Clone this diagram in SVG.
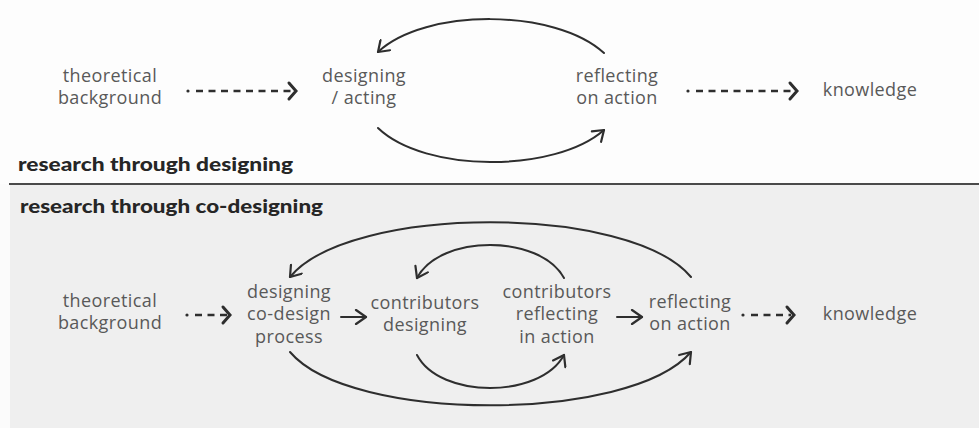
<svg xmlns="http://www.w3.org/2000/svg" width="979" height="428" viewBox="0 0 979 428">
  <style>
    .lbl { font-family: "Open Sans", "Liberation Sans", sans-serif; font-size: 18px; letter-spacing: 0.4px; fill: #595959; text-anchor: middle; }
    .title { font-family: Lato, "Liberation Sans", sans-serif; font-weight: 900; font-size: 19px; fill: #262626; }
    .flow { fill: none; stroke: #2e2e2e; stroke-width: 2; stroke-linecap: round; }
    .dash { fill: none; stroke: #2e2e2e; stroke-width: 2.6; stroke-dasharray: 7 5.5; }
    .dot { fill: #2e2e2e; }
    .head { fill: none; stroke: #2e2e2e; stroke-width: 2.2; stroke-linecap: round; stroke-linejoin: round; }
    .chev { fill: none; stroke: #2e2e2e; stroke-width: 3; stroke-linecap: round; stroke-linejoin: miter; }
  </style>
  <defs>
    <marker id="open" viewBox="-12 -8 14 16" markerWidth="14" markerHeight="16" refX="0" refY="0" orient="auto" markerUnits="userSpaceOnUse">
      <path class="head" d="M-10,-7 L0,0 L-10,7"/>
    </marker>
  </defs>

  <!-- panels -->
  <rect x="0" y="0" width="979" height="184" fill="#fdfdfd"/>
  <rect x="0" y="184" width="979" height="244" fill="#fbfbfb"/>
  <rect x="10" y="185" width="969" height="243" fill="#efefef"/>
  <line x1="9" y1="184" x2="979" y2="184" stroke="#4a4a4a" stroke-width="2.2"/>

  <!-- section titles -->
  <text class="title" x="18" y="171" textLength="275" lengthAdjust="spacingAndGlyphs">research through designing</text>
  <text class="title" x="20" y="213" textLength="303" lengthAdjust="spacingAndGlyphs">research through co-designing</text>

  <!-- upper diagram nodes -->
  <g id="top-theory">
    <text class="lbl" x="110" y="82">theoretical</text>
    <text class="lbl" x="110" y="104">background</text>
  </g>
  <g id="top-designing">
    <text class="lbl" x="364" y="82">designing</text>
    <text class="lbl" x="364" y="104">/ acting</text>
  </g>
  <g id="top-reflecting">
    <text class="lbl" x="617" y="82">reflecting</text>
    <text class="lbl" x="617" y="104">on action</text>
  </g>
  <g id="top-knowledge">
    <text class="lbl" x="870" y="96">knowledge</text>
  </g>

  <!-- lower diagram nodes -->
  <g id="bot-theory">
    <text class="lbl" x="110" y="307">theoretical</text>
    <text class="lbl" x="110" y="329">background</text>
  </g>
  <g id="bot-designing-process">
    <text class="lbl" x="289" y="298">designing</text>
    <text class="lbl" x="289" y="320">co-design</text>
    <text class="lbl" x="289" y="343">process</text>
  </g>
  <g id="bot-contrib-designing">
    <text class="lbl" x="425" y="309">contributors</text>
    <text class="lbl" x="425" y="331">designing</text>
  </g>
  <g id="bot-contrib-reflecting">
    <text class="lbl" x="557" y="298">contributors</text>
    <text class="lbl" x="557" y="320">reflecting</text>
    <text class="lbl" x="557" y="343">in action</text>
  </g>
  <g id="bot-reflecting">
    <text class="lbl" x="690" y="308">reflecting</text>
    <text class="lbl" x="690" y="330">on action</text>
  </g>
  <g id="bot-knowledge">
    <text class="lbl" x="870" y="320">knowledge</text>
  </g>

  <!-- connectors -->
  <g id="connectors">
    <!-- upper: dashed inputs / outputs -->
    <circle class="dot" cx="188" cy="91" r="1.6"/>
    <line class="dash" x1="196" y1="91" x2="293" y2="91"/>
    <path class="chev" d="M289,83 L296,91 L289,99"/>
    <circle class="dot" cx="688" cy="91" r="1.6"/>
    <line class="dash" x1="696" y1="91" x2="794" y2="91"/>
    <path class="chev" d="M790,83 L797,91 L790,99"/>
    <!-- upper: loop -->
    <path class="flow" d="M604,53 C555,8 425,8 378,52" marker-end="url(#open)"/>
    <path class="flow" d="M378,128 C425,173 555,173 604,130" marker-end="url(#open)"/>

    <!-- lower: dashed inputs / outputs -->
    <circle class="dot" cx="187" cy="315" r="1.6"/>
    <line class="dash" x1="195" y1="315" x2="227" y2="315"/>
    <path class="chev" d="M223,307 L230,315 L223,323"/>
    <circle class="dot" cx="743" cy="315" r="1.6"/>
    <line class="dash" x1="751" y1="315" x2="791" y2="315"/>
    <path class="chev" d="M787,307 L794,315 L787,323"/>
    <!-- lower: straight steps -->
    <line class="flow" x1="341" y1="317" x2="366" y2="317" marker-end="url(#open)"/>
    <line class="flow" x1="617" y1="317" x2="642" y2="317" marker-end="url(#open)"/>
    <!-- lower: loops -->
    <path class="flow" d="M691,277 C630,204 350,204 290,277" marker-end="url(#open)"/>
    <path class="flow" d="M564,278 C540,234 440,234 417,278" marker-end="url(#open)"/>
    <path class="flow" d="M417,355 C440,399 540,399 564,355" marker-end="url(#open)"/>
    <path class="flow" d="M290,352 C350,423 630,423 691,352" marker-end="url(#open)"/>
  </g>
</svg>
